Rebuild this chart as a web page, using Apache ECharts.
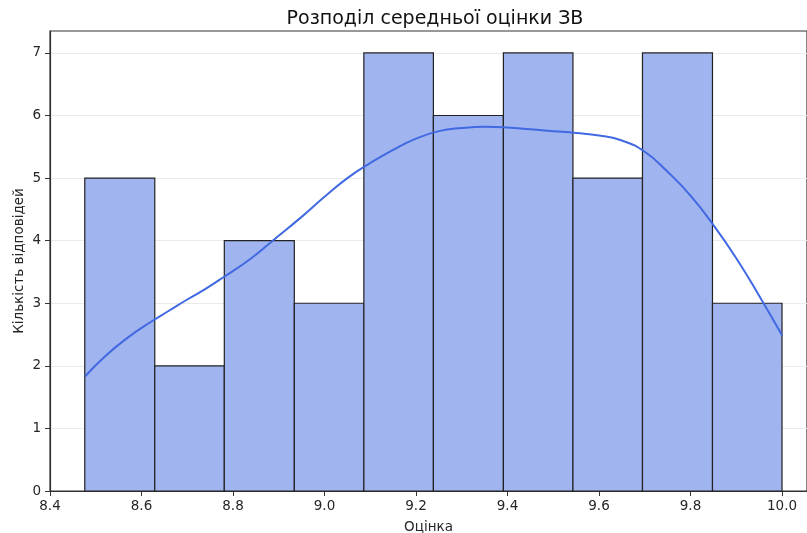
<!DOCTYPE html>
<html>
<head>
<meta charset="utf-8">
<style>
  html, body { margin: 0; padding: 0; background: #fff; }
  #chart { width: 807px; height: 533px; }
</style>
<script src="https://cdn.jsdelivr.net/npm/echarts@6/dist/echarts.min.js"></script>
</head>
<body>
<div id="chart"></div>
<script>
// Histogram bin edges (score) and counts per bin
const binEdges = [8.476, 8.629, 8.781, 8.934, 9.086, 9.238, 9.391, 9.543, 9.695, 9.848, 10.0];
const binCounts = [5, 2, 4, 3, 7, 6, 7, 5, 7, 3];

// Kernel density estimate, scaled to counts
const kdeX = [8.4765, 8.52, 8.57, 8.62, 8.66, 8.70, 8.74, 8.78, 8.84, 8.89, 8.95, 9.00, 9.05,
              9.10, 9.15, 9.20, 9.25, 9.30, 9.35, 9.40, 9.45, 9.50, 9.55, 9.60, 9.65, 9.70,
              9.75, 9.80, 9.85, 9.90, 9.95, 10.0];
const kdeY = [1.83, 2.15, 2.45, 2.70, 2.88, 3.06, 3.23, 3.42, 3.72, 4.02, 4.38, 4.70, 5.00,
              5.24, 5.45, 5.63, 5.75, 5.80, 5.82, 5.81, 5.78, 5.75, 5.72, 5.68, 5.60, 5.42,
              5.10, 4.72, 4.25, 3.72, 3.12, 2.49];

// Axis ticks
const xTicks = [8.4, 8.6, 8.8, 9.0, 9.2, 9.4, 9.6, 9.8, 10.0];
const yTicks = [0, 1, 2, 3, 4, 5, 6, 7];

const FONT = 'DejaVu Sans';
const TEXT = '#262626';

const bins = binCounts.map((c, i) => [binEdges[i], binEdges[i + 1], c]);
const kde = kdeX.map((x, i) => [x, kdeY[i]]);

const chart = echarts.init(document.getElementById('chart'), null, { renderer: 'canvas' });

chart.setOption({
  animation: false,
  backgroundColor: '#ffffff',
  title: {
    text: 'Розподіл середньої оцінки ЗВ',
    left: 430,
    textAlign: 'center',
    top: 5,
    textStyle: { fontFamily: FONT, fontSize: 19, fontWeight: 'normal', color: '#111' }
  },
  grid: {
    left: 50, top: 31, right: 0, bottom: 42,
    outerBoundsMode: 'none',
    containLabel: false,
    show: true, borderColor: '#333', borderWidth: 1.2, backgroundColor: 'transparent'
  },
  xAxis: {
    type: 'value',
    min: 8.4,
    max: 10.0546,
    interval: 0.2,
    name: 'Оцінка',
    nameLocation: 'middle',
    nameGap: 29,
    nameMoveOverlap: false,
    nameTextStyle: { fontFamily: FONT, fontSize: 13.5, color: TEXT },
    axisLine: { show: true, onZero: false, lineStyle: { color: '#333', width: 1.2 } },
    axisTick: { show: true, length: 5, customValues: xTicks, lineStyle: { color: '#333', width: 1 } },
    axisLabel: {
      customValues: xTicks,
      margin: 8,
      fontFamily: FONT, fontSize: 13.5, color: TEXT,
      formatter: v => v.toFixed(1)
    },
    splitLine: { show: false }
  },
  yAxis: {
    type: 'value',
    min: 0,
    max: 7.35,
    interval: 1,
    name: 'Кількість відповідей',
    nameLocation: 'middle',
    nameGap: 24,
    nameMoveOverlap: false,
    nameTextStyle: { fontFamily: FONT, fontSize: 13.5, color: TEXT },
    axisLine: { show: true, lineStyle: { color: '#333', width: 1.2 } },
    axisTick: { show: true, length: 5, customValues: yTicks, lineStyle: { color: '#333', width: 1 } },
    axisLabel: {
      customValues: yTicks,
      margin: 9,
      fontFamily: FONT, fontSize: 13.5, color: TEXT,
      formatter: v => String(v)
    },
    splitLine: { show: true, lineStyle: { color: '#ebebeb', width: 1 } }
  },
  series: [
    {
      type: 'custom',
      name: 'Кількість',
      data: bins,
      encode: { x: [0, 1], y: 2 },
      renderItem: function (params, api) {
        const p0 = api.coord([api.value(0), 0]);
        const p1 = api.coord([api.value(1), api.value(2)]);
        return {
          type: 'rect',
          shape: { x: p0[0], y: p1[1], width: p1[0] - p0[0], height: p0[1] - p1[1] },
          style: { fill: '#a0b4ef', stroke: '#222222', lineWidth: 1.2 }
        };
      },
      z: 2
    },
    {
      type: 'line',
      name: 'KDE',
      data: kde,
      smooth: 0.5,
      showSymbol: false,
      symbol: 'none',
      lineStyle: { color: '#4169e1', width: 2 },
      z: 3
    }
  ]
});
</script>
</body>
</html>
